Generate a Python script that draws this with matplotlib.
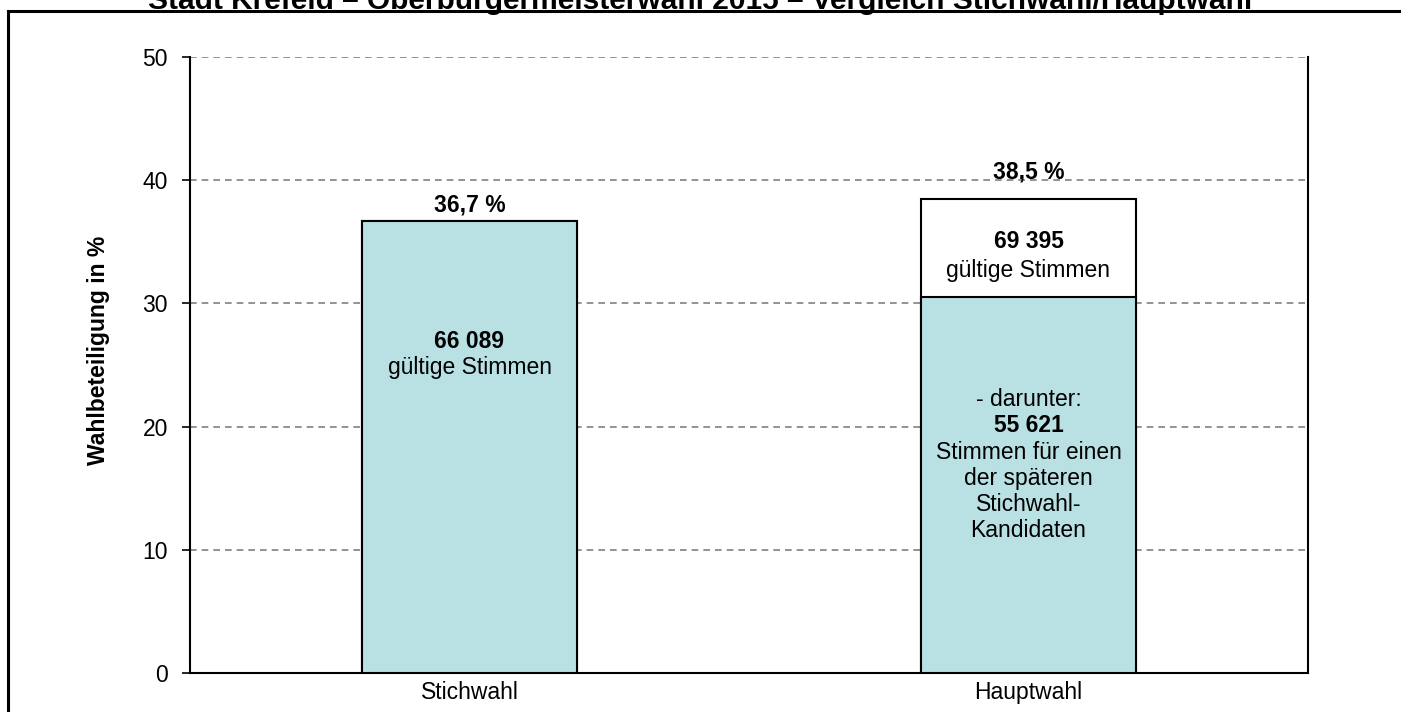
import matplotlib
matplotlib.use("Agg")
import matplotlib.pyplot as plt
from matplotlib.patches import Rectangle

plt.rcParams['font.family'] = ['Liberation Sans', 'DejaVu Sans']

categories = ['Stichwahl', 'Hauptwahl']
turnout = [36.7, 38.5]              # Wahlbeteiligung in %
candidate_share = [36.7, 30.5]      # part of the bar for the later run-off candidates
turnout_labels = ['36,7 %', '38,5 %']
label_offset = [1.3, 2.2]

bar_color = '#B9E0E3'
fs = 16.5

fig = plt.figure(figsize=(14.01, 7.12), dpi=100)
ax = fig.add_axes([190 / 1401, 1 - 673 / 712, 1118 / 1401, 616 / 712])

x = range(len(categories))
width = 0.385

# upper white part (whole turnout), then lower coloured part
ax.bar(x, turnout, width, color='white', edgecolor='black', linewidth=1.5, zorder=2)
ax.bar(x, candidate_share, width, color=bar_color, edgecolor='black', linewidth=1.5, zorder=3)

for i, lab in enumerate(turnout_labels):
    ax.text(i, turnout[i] + label_offset[i], lab, ha='center', va='center',
            fontsize=fs, fontweight='bold', zorder=4)

# text inside the bars
ax.text(0, 26.9, '66 089', ha='center', va='center', fontsize=fs, fontweight='bold', zorder=4)
ax.text(0, 24.8, 'gültige Stimmen', ha='center', va='center', fontsize=fs, zorder=4)

ax.text(1, 35.0, '69 395', ha='center', va='center', fontsize=fs, fontweight='bold', zorder=4)
ax.text(1, 32.7, 'gültige Stimmen', ha='center', va='center', fontsize=fs, zorder=4)

ax.text(1, 22.2, '- darunter:', ha='center', va='center', fontsize=fs, zorder=4)
ax.text(1, 20.1, '55 621', ha='center', va='center', fontsize=fs, fontweight='bold', zorder=4)
lines = ['Stimmen für einen', 'der späteren', 'Stichwahl-', 'Kandidaten']
for k, t in enumerate(lines):
    ax.text(1, 17.9 - k * 2.1, t, ha='center', va='center', fontsize=fs, zorder=4)

ax.set_xlim(-0.5, 1.5)
ax.set_ylim(0, 50)
ax.set_yticks(range(0, 51, 10))
ax.set_xticks(list(x))
ax.set_xticklabels(categories)
ax.tick_params(axis='y', direction='out', length=5.8, width=1.2, labelsize=fs, pad=10)
ax.tick_params(axis='x', length=0, labelsize=fs, pad=6)

ax.yaxis.grid(True, linestyle=(0, (4, 3)), color='#808080', linewidth=1.2, zorder=0)
ax.set_axisbelow(True)

ax.spines['top'].set_visible(False)
for s in ['left', 'right', 'bottom']:
    ax.spines[s].set_linewidth(1.5)
    ax.spines[s].set_color('black')

ax.set_ylabel('Wahlbeteiligung in %', fontsize=fs, fontweight='bold')
ax.yaxis.set_label_coords(-0.072, 0.523)

# outer frame, running off the right and bottom edges
fig.patches.append(Rectangle((8 / 1401, -0.1), 1.2, 1 - 10.5 / 712 + 0.1,
                             transform=fig.transFigure, fill=False,
                             edgecolor='black', linewidth=2.2, zorder=0))

fig.text(0.5, 1 - 9 / 712,
         'Stadt Krefeld – Oberbürgermeisterwahl 2015 – Vergleich Stichwahl/Hauptwahl',
         ha='center', va='baseline', fontsize=21.5, fontweight='bold')

fig.savefig('out.png', dpi=100)
